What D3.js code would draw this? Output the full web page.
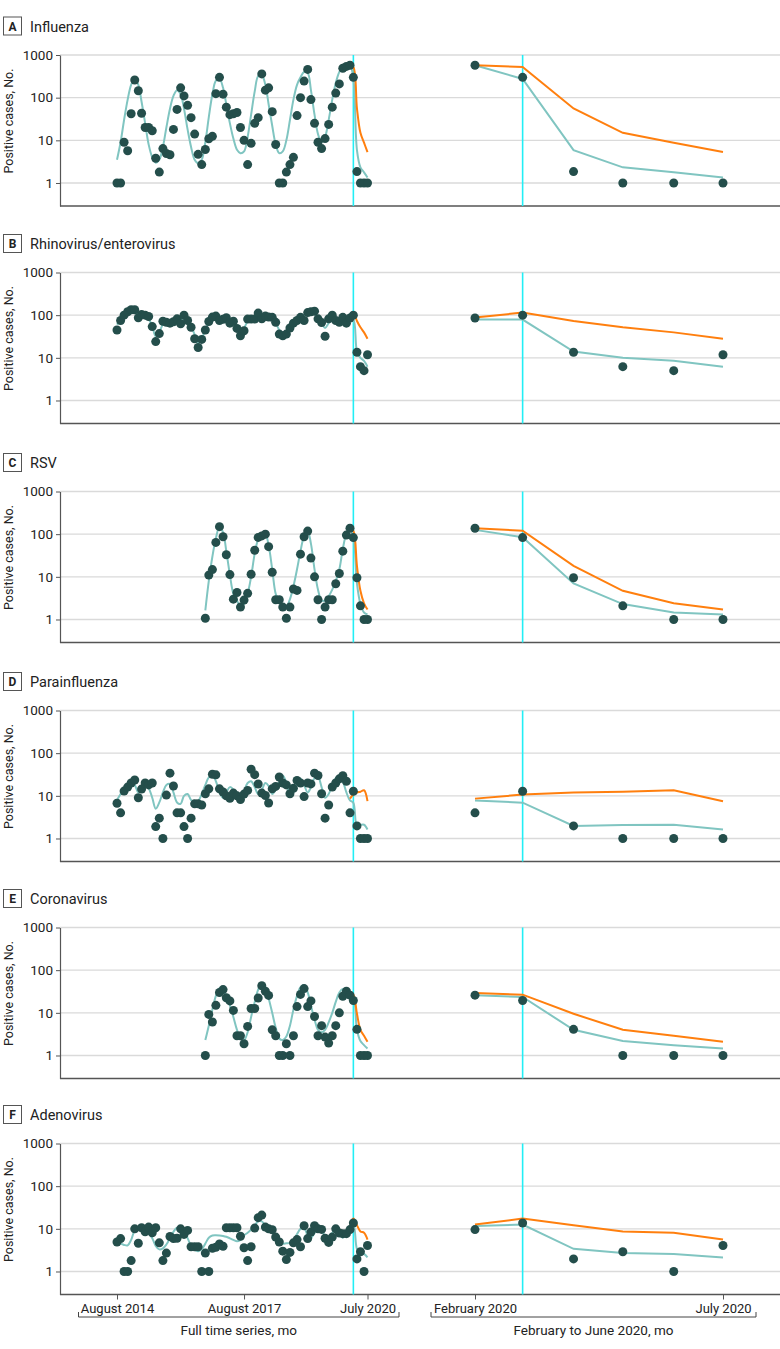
<!DOCTYPE html>
<html>
<head>
<meta charset="utf-8">
<script src="https://cdn.jsdelivr.net/npm/d3@7"></script>
<style>
body { margin: 0; background: #fff; }
svg { display: block; font-family: Roboto, "Noto Sans", sans-serif; }
</style>
</head>
<body>
<div id="viz"></div>
<script>
// monthly series, August 2014 .. July 2020 (72 months)
var months = d3.timeMonth.range(new Date(2014, 7, 1), new Date(2020, 7, 1));
var panelLetters = ["A", "B", "C", "D", "E", "F"];
var panelNames = ["Influenza", "Rhinovirus/enterovirus", "RSV", "Parainfluenza", "Coronavirus", "Adenovirus"];
var yTicks = [1, 10, 100, 1000];
var leftTickDates = [new Date(2014, 7, 1), new Date(2017, 7, 1), new Date(2020, 6, 1)];
var leftTickLabels = ["August 2014", "August 2017", "July 2020"];
var rightTickDates = [new Date(2020, 1, 1), new Date(2020, 6, 1)];
var rightTickLabels = ["February 2020", "July 2020"];
var interventionDate = new Date(2020, 2, 1);
var leftAxisTitle = "Full time series, mo";
var rightAxisTitle = "February to June 2020, mo";

var influenzaObs = [1,1,9,5.7,42,260,145,43,20,20,
  16.8,3.8,1.8,6.4,4.9,4.6,18,53,170,110,
  66,34,14,4.7,2.7,6.1,10.9,12.4,124,300,
  121,60,40,42,45,20,10,2.7,8.5,25,
  34,360,150,170,47,8,1,1,1.8,2.7,
  4,38,100,245,460,90,25,9,6.4,11,
  23.6,60,128,210,490,540,575,300,1.85,1,
  1,1];
var influenzaFit = [3.5,9,30,90,200,280,200,80,25,8,
  4,3,3.5,7,20,55,110,150,120,55,
  18,7,3.5,2.9,3.5,9,35,120,250,280,
  170,70,25,11,6,5,5.5,12,40,140,
  320,340,200,70,22,8,5,5.5,10,30,
  90,200,300,400,380,150,40,14,9,12,
  30,90,220,400,520,560,575,275,5.9,2.33,
  1.78,1.35];
var influenzaForecast = [575,525,56,15,8.8,5.3];

var rhinoObs = [45,75,100,120,134,134,87,104,100,93,
  54,24,37,72,68,65,70,82,63,100,
  75,52,28,17.5,27,45,71,90,95,75,
  80,87,65,72,49,33,43,81,81,81,
  112,82,95,90,89,68,36,33,36,50,
  65,75,89,75,115,120,124,82,67,32,
  82,100,75,68,89,65,86,100,13.5,6.2,
  5,11.8];
var rhinoFit = [60,80,100,125,130,120,100,95,90,80,
  55,32,40,60,65,68,72,78,80,85,
  75,55,35,22,28,45,68,88,95,95,
  85,80,72,68,55,40,50,72,85,95,
  105,100,95,88,80,65,45,36,40,55,
  70,80,90,100,110,115,110,85,65,50,
  65,80,80,78,80,80,79,79,14,10,
  8.5,6.2];
var rhinoForecast = [88,115,73,52,39.5,28];

var rsvObs = [null,null,null,null,null,null,null,null,null,null,
  null,null,null,null,null,null,null,null,null,null,
  null,null,null,null,null,1.07,11,14.8,64,150,
  87,33,11.3,3,4.3,1.95,2.85,4.1,11.5,42,
  84,91,100,51,12.8,2.9,2.9,1.95,1.07,1.95,
  5.2,4.8,34,87,118,27.5,10,2.9,1,1.95,
  2.9,2.9,6.9,12,40,95,138,83,9.5,2.09,
  1,1];
var rsvFit = [null,null,null,null,null,null,null,null,null,null,
  null,null,null,null,null,null,null,null,null,null,
  null,null,null,null,null,1.63,8,30,80,150,
  110,40,11,4,2.8,2,2.3,4,10,35,
  75,95,100,55,15,4,2.5,2,2,3,
  6,15,40,90,118,60,15,5,2.8,2.8,
  3.5,5,8,15,45,100,126,85,7,2.3,
  1.46,1.31];
var rsvForecast = [138,120,18,4.7,2.4,1.72];

var paraObs = [6.7,4,12.9,16,20,23.5,9,14.4,20,18,
  20,1.9,3,1,10.4,34,17,4,4,1.9,
  1,3,6.5,6.5,6.1,11.2,14.6,32,31,14.6,
  12.3,10,8.8,11.6,10,8.2,11,13.4,42,31.4,
  18.9,11.6,10.2,6.8,14.6,16.6,27.6,20,18,11.2,
  15,23,20,9.6,20,19,34,30,11.2,3,
  6.1,16.1,20,25,29.6,22,4,12.8,1.97,1,
  1,1];
var paraFit = [8,11,15,19,21,18,12,14,17,15,
  9,5,7,12,18,19,12,7,6.5,10,
  11,8,7,7.5,11,18,27,30,22,12,
  9,12,16,14,9,8.5,13,20,22,16,
  11,14,20,17,11,14,22,30,20,11,
  12,20,25,18,12,16,26,28,16,9,
  11,18,26,30,22,12,7.8,6.9,1.97,2.07,
  2.1,1.63];
var paraForecast = [8.6,10.7,11.9,12.5,13.5,7.5];

var coronaObs = [null,null,null,null,null,null,null,null,null,null,
  null,null,null,null,null,null,null,null,null,null,
  null,null,null,null,null,1,9.2,6.1,15,30,
  35,22.6,19,11.4,2.9,2.9,1.88,4.8,12.6,12.6,
  22.3,43,32,25.6,4,2.9,1,1,1.88,1,
  2.9,14,27,37,14,19,8.2,2.9,5,2.7,
  1.95,2.9,5,10,24.4,32,26,19.5,4.1,1,
  1,1];
var coronaFit = [null,null,null,null,null,null,null,null,null,null,
  null,null,null,null,null,null,null,null,null,null,
  null,null,null,null,null,2.3,5,12,25,38,
  35,25,15,8,4,2.5,2.3,3.5,8,18,
  35,48,40,22,10,4.5,2.5,2.3,2.8,5,
  12,25,40,44,30,15,7,4,3.5,4,
  6,10,18,30,36,32,26,23.5,4,2.18,
  1.75,1.46];
var coronaForecast = [29,26.7,9.5,4,2.9,2.1];

var adenoObs = [4.9,5.9,1,1,1.8,10,4.6,10.6,8.5,11,
  8.1,10.6,4.7,1.8,2.7,6.6,5.9,6,10,7.4,
  9.2,3.8,3.8,3.8,1,2.7,1,3.5,3.7,4.4,
  3.9,10.6,10.6,10.6,10.6,6.7,3.6,1.8,3.8,10.4,
  18.3,21,11,10,9.5,6.4,4.9,3,1.9,2.8,
  4.7,5.6,3.8,11.8,5.9,8.4,11.8,10,9.7,6,
  4.8,6.4,10,8,7.7,7.7,9.6,13.7,1.97,2.9,
  1,4.06];
var adenoFit = [4.9,4.5,4.2,4.1,5.5,9,9.5,9,8.9,8,
  6,4,3.3,3.5,4.3,6,8.5,10.6,10,8,
  6,4,3.2,3,3.3,4.5,6.2,7,7.1,7,
  6.8,6.5,6,5.5,5.1,5.5,7,8.1,9.5,12,
  15,15,12,10.6,8.5,6,4.7,4.5,4.6,4.7,
  5.5,7.5,10,10.6,7,6.2,8,10.6,9,7,
  6.2,8,9.7,7.5,6.2,7.5,11.7,12.6,3.4,2.73,
  2.58,2.14];
var adenoForecast = [12.6,17.4,12.1,8.7,8.1,5.6];

var observed = [influenzaObs, rhinoObs, rsvObs, paraObs, coronaObs, adenoObs];
var fitted = [influenzaFit, rhinoFit, rsvFit, paraFit, coronaFit, adenoFit];
var forecast = [influenzaForecast, rhinoForecast, rsvForecast, paraForecast, coronaForecast, adenoForecast];

var width = 780, height = 1349;
var panelTops = [55, 272.5, 491.5, 710.5, 927.5, 1143.5];
var plotH = 151;
var axisX = 60;
var dotColor = "#244e4b", fitColor = "#80c5c1", forecastColor = "#ff7f0e", cyan = "#22eef5";

var svg = d3.select("#viz").append("svg")
    .attr("width", width)
    .attr("height", height);

var xLeft = d3.scaleTime().domain([leftTickDates[0], leftTickDates[2]]).range([117, 367.5]);
var xRight = d3.scaleTime().domain([rightTickDates[0], rightTickDates[1]]).range([475, 723]);
var recent = months.slice(66);

function toPoints(dates, values) {
	return dates.map(function(d, i) { return {date: d, value: values[i]}; });
}

panelNames.forEach(function(name, k) {
	var top = panelTops[k];
	var bottom = top + plotH;
	var y = d3.scaleLog().domain([0.289, 1000]).range([bottom, top]);
	var g = svg.append("g").attr("class", "panel");

	// gridlines
	g.selectAll(".grid").data(yTicks).enter().append("line")
		.attr("x1", axisX).attr("x2", width)
		.attr("y1", function(d) { return y(d); }).attr("y2", function(d) { return y(d); })
		.attr("stroke", "#dadada").attr("stroke-width", 1.3);

	// y axis
	var yAxis = g.append("g").attr("transform", "translate(" + axisX + ",0)")
		.call(d3.axisLeft(y).tickValues(yTicks).tickFormat(d3.format("d")).tickSize(4).tickSizeOuter(0));
	yAxis.select(".domain").attr("stroke", "#555").attr("stroke-width", 1.2);
	yAxis.selectAll(".tick line").attr("stroke", "#555");
	yAxis.selectAll(".tick text").attr("font-size", "13.5px").attr("fill", "#222")
		.attr("font-family", "Roboto, sans-serif").attr("x", -7);

	// bottom axis line
	g.append("line").attr("x1", axisX).attr("x2", width)
		.attr("y1", bottom).attr("y2", bottom)
		.attr("stroke", "#555").attr("stroke-width", 1.3);

	// y axis title
	g.append("text")
		.attr("transform", "translate(13," + (top + 66) + ") rotate(-90)")
		.attr("text-anchor", "middle")
		.attr("font-size", "12.5px").attr("fill", "#222")
		.text("Positive cases, No.");

	// panel title
	g.append("rect").attr("x", 3.5).attr("y", top - 38).attr("width", 18).attr("height", 18)
		.attr("fill", "none").attr("stroke", "#555").attr("stroke-width", 1);
	g.append("text").attr("x", 12.5).attr("y", top - 24.5).attr("text-anchor", "middle")
		.attr("font-size", "12px").attr("font-weight", "bold").attr("fill", "#222")
		.text(panelLetters[k]);
	g.append("text").attr("x", 30).attr("y", top - 23.5)
		.attr("font-size", "14.5px").attr("fill", "#222")
		.text(name);

	// intervention lines
	[xLeft(interventionDate), xRight(interventionDate)].forEach(function(cx) {
		g.append("line").attr("x1", cx).attr("x2", cx).attr("y1", top).attr("y2", bottom)
			.attr("stroke", cyan).attr("stroke-width", 1.6);
	});

	var obsPts = toPoints(months, observed[k]);
	var fitPts = toPoints(months, fitted[k]);
	var fcPts = toPoints(recent, forecast[k]);
	var obsRecent = obsPts.slice(66);
	var fitRecent = fitPts.slice(66);

	var smoothLeft = d3.line()
		.defined(function(d) { return d.value != null; })
		.x(function(d) { return xLeft(d.date); })
		.y(function(d) { return y(d.value); })
		.curve(d3.curveCatmullRom.alpha(0.5));
	var straightRight = d3.line()
		.x(function(d) { return xRight(d.date); })
		.y(function(d) { return y(d.value); });

	g.append("path").attr("d", smoothLeft(fitPts)).attr("fill", "none")
		.attr("stroke", fitColor).attr("stroke-width", 2);
	g.append("path").attr("d", smoothLeft(fcPts)).attr("fill", "none")
		.attr("stroke", forecastColor).attr("stroke-width", 2);
	g.append("path").attr("d", straightRight(fitRecent)).attr("fill", "none")
		.attr("stroke", fitColor).attr("stroke-width", 2);
	g.append("path").attr("d", straightRight(fcPts)).attr("fill", "none")
		.attr("stroke", forecastColor).attr("stroke-width", 2);

	g.selectAll(".dotL").data(obsPts.filter(function(d) { return d.value != null; }))
		.enter().append("circle")
		.attr("cx", function(d) { return xLeft(d.date); })
		.attr("cy", function(d) { return y(d.value); })
		.attr("r", 4.5).attr("fill", dotColor);
	g.selectAll(".dotR").data(obsRecent)
		.enter().append("circle")
		.attr("cx", function(d) { return xRight(d.date); })
		.attr("cy", function(d) { return y(d.value); })
		.attr("r", 4.5).attr("fill", dotColor);

	// x ticks and labels only below the last panel
	if (k == panelNames.length - 1) {
		var ax = g.append("g").attr("transform", "translate(0," + bottom + ")");
		ax.call(d3.axisBottom(xLeft).tickValues(leftTickDates).tickSize(5).tickSizeOuter(0)
			.tickFormat(function(d, i) { return leftTickLabels[i]; }));
		var ax2 = g.append("g").attr("transform", "translate(0," + bottom + ")");
		ax2.call(d3.axisBottom(xRight).tickValues(rightTickDates).tickSize(5).tickSizeOuter(0)
			.tickFormat(function(d, i) { return rightTickLabels[i]; }));
		[ax, ax2].forEach(function(a) {
			a.select(".domain").remove();
			a.selectAll(".tick line").attr("stroke", "#555");
			a.selectAll(".tick text").attr("font-size", "13px").attr("fill", "#222")
				.attr("font-family", "Roboto, sans-serif").attr("y", 9);
		});

		var by = bottom + 22.5;
		[[78.5, 399, leftAxisTitle], [431, 756, rightAxisTitle]].forEach(function(b) {
			g.append("path")
				.attr("d", "M" + b[0] + "," + (by - 5) + "V" + by + "H" + b[1] + "V" + (by - 5))
				.attr("fill", "none").attr("stroke", "#444").attr("stroke-width", 1);
			g.append("text").attr("x", (b[0] + b[1]) / 2).attr("y", by + 18)
				.attr("text-anchor", "middle").attr("font-size", "13.5px").attr("fill", "#222")
				.text(b[2]);
		});
	}
});
</script>
</body>
</html>
